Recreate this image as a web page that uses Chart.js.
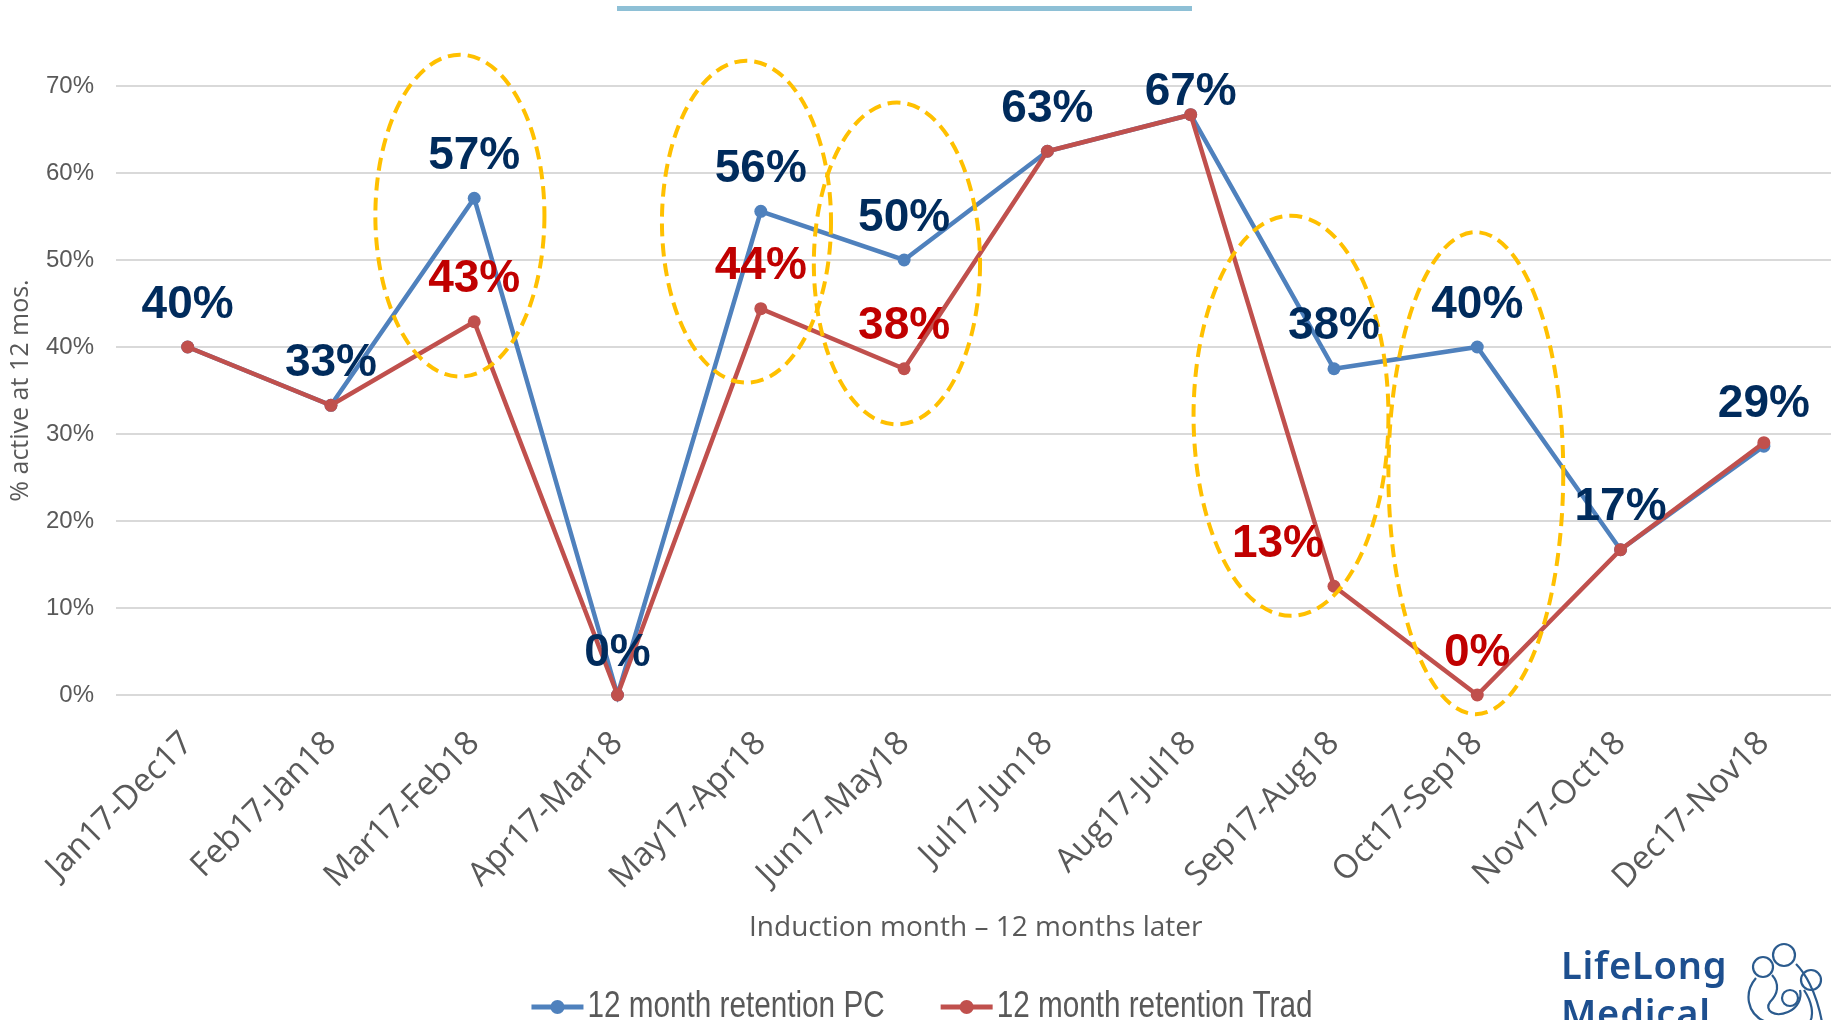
<!DOCTYPE html>
<html>
<head>
<meta charset="utf-8">
<title>12 month retention</title>
<script src="https://cdn.jsdelivr.net/npm/chart.js@4.4.1/dist/chart.umd.min.js"></script>
<style>
  body { margin: 0; background: #fff; }
  #wrap { position: relative; width: 1831px; height: 1020px; overflow: hidden; background: #fff; }
  /* plot runs slightly past the right edge, as in the original slide */
  #retention-chart { position: absolute; left: 0; top: 0; }
  .topbar { position: absolute; left: 617px; top: 6px; width: 575px; height: 5px; background: #8ec0d6; }
  .logo { position: absolute; left: 1561px; top: 940px; color: #1d4f8f; font-family: "Noto Sans", sans-serif;
          font-size: 38px; font-weight: 600; line-height: 48px; letter-spacing: 0.8px; }
  .logo-icon { position: absolute; left: 1740px; top: 942px; }
</style>
</head>
<body>
<div id="wrap">
  <canvas id="retention-chart" width="1842" height="1020"></canvas>
  <div class="topbar"></div>
  <div class="logo">LifeLong<br>Medical</div>
  <svg class="logo-icon" width="90" height="80" viewBox="0 0 90 80" fill="none" stroke="#2b5b8e" stroke-width="2.2">
    <circle cx="23" cy="25" r="10"/>
    <circle cx="44" cy="13" r="11"/>
    <circle cx="71" cy="38" r="10"/>
    <circle cx="50" cy="56" r="8"/>
    <path d="M16 36 C4 50 6 72 26 80"/>
    <path d="M32 33 C40 42 38 52 30 60 C24 68 34 76 48 70 C58 66 62 56 60 48"/>
    <path d="M56 22 C64 30 76 48 82 80"/>
    <path d="M64 48 C72 60 74 72 70 80"/>
  </svg>
</div>
<script>
const categories = ["Jan17-Dec17", "Feb17-Jan18", "Mar17-Feb18", "Apr17-Mar18", "May17-Apr18", "Jun17-May18",
  "Jul17-Jun18", "Aug17-Jul18", "Sep17-Aug18", "Oct17-Sep18", "Nov17-Oct18", "Dec17-Nov18"];
const pcValues = [40, 33.3, 57.1, 0, 55.6, 50, 62.5, 66.7, 37.5, 40, 16.7, 28.6];
const tradValues = [40, 33.3, 42.9, 0, 44.4, 37.5, 62.5, 66.7, 12.5, 0, 16.7, 29.0];
const seriesNames = ["12 month retention PC", "12 month retention Trad"];
const yTicks = [0, 10, 20, 30, 40, 50, 60, 70];

// which value labels are written for each series (the rest sit on top of each other)
const pcLabelIdx = [0, 1, 2, 3, 4, 5, 6, 7, 8, 9, 10, 11];
const tradLabelIdx = [2, 4, 5, 8, 9];

// dashed rings, in axis units: centre category, centre value, half width, half height
const rings = [
  { at: 1.90, mid: 55.1, halfW: 0.59, halfH: 18.5 },
  { at: 3.90, mid: 54.4, halfW: 0.59, halfH: 18.5 },
  { at: 4.95, mid: 49.6, halfW: 0.58, halfH: 18.5 },
  { at: 7.70, mid: 32.1, halfW: 0.68, halfH: 23.0 },
  { at: 8.99, mid: 25.5, halfW: 0.61, halfH: 27.7 }
];

const blue = "#4f81bd";
const red = "#c0504d";
const gray = "#595959";

const decor = {
  id: "decor",
  afterDatasetsDraw(chart) {
    const ctx = chart.ctx;
    const xs = chart.scales.x;
    const ys = chart.scales.y;

    ctx.save();
    ctx.strokeStyle = "#ffc000";
    ctx.lineWidth = 4;
    ctx.setLineDash([13, 7]);
    rings.forEach(r => {
      const cx = xs.getPixelForValue(r.at);
      const cy = ys.getPixelForValue(r.mid);
      const rx = Math.abs(xs.getPixelForValue(r.at + r.halfW) - cx);
      const ry = Math.abs(ys.getPixelForValue(r.mid + r.halfH) - cy);
      ctx.beginPath();
      ctx.ellipse(cx, cy, rx, ry, 0, 0, Math.PI * 2);
      ctx.stroke();
    });
    ctx.restore();

    ctx.save();
    ctx.font = "bold 46px 'Liberation Sans', Arial, sans-serif";
    ctx.textAlign = "center";
    ctx.textBaseline = "middle";
    const labelSets = [
      { idx: pcLabelIdx, color: "#002b5c", shift: { 7: [0, 22] } },
      { idx: tradLabelIdx, color: "#c00000", shift: { 8: [-56, 42] } }
    ];
    labelSets.forEach((set, di) => {
      const meta = chart.getDatasetMeta(di);
      const vals = chart.data.datasets[di].data;
      ctx.fillStyle = set.color;
      set.idx.forEach(i => {
        const pt = meta.data[i];
        const s = set.shift[i] || [0, 42];
        ctx.fillText(Math.round(vals[i]) + "%", pt.x + s[0], pt.y - s[1]);
      });
    });
    ctx.restore();
  },
  afterDraw(chart) {
    // legend: line with a dot, then the series name (narrow type, like the original)
    const ctx = chart.ctx;
    const squeeze = 0.825;
    ctx.save();
    ctx.font = "36px 'Liberation Sans', Arial, sans-serif";
    ctx.textBaseline = "middle";
    const sym = 52, gap = 4, itemGap = 56, y = 1007;
    const widths = chart.data.datasets.map(d => ctx.measureText(d.label).width * squeeze);
    const total = widths.reduce((a, w) => a + sym + gap + w, 0) + itemGap;
    let x = 922 - total / 2;
    chart.data.datasets.forEach((d, i) => {
      ctx.strokeStyle = d.borderColor;
      ctx.lineWidth = 5;
      ctx.beginPath();
      ctx.moveTo(x, y);
      ctx.lineTo(x + sym, y);
      ctx.stroke();
      ctx.fillStyle = d.borderColor;
      ctx.beginPath();
      ctx.arc(x + sym / 2, y, 7, 0, Math.PI * 2);
      ctx.fill();
      ctx.fillStyle = gray;
      ctx.save();
      ctx.translate(x + sym + gap, y);
      ctx.scale(squeeze, 1);
      ctx.fillText(d.label, 0, 0);
      ctx.restore();
      x += sym + gap + widths[i] + itemGap;
    });
    ctx.restore();
  }
};

const chart = new Chart(document.getElementById("retention-chart"), {
  type: "line",
  data: {
    labels: categories,
    datasets: [
      {
        label: seriesNames[0],
        data: pcValues,
        borderColor: blue,
        backgroundColor: blue,
        borderWidth: 4.5,
        pointRadius: 6.5,
        pointBorderWidth: 0,
        pointBackgroundColor: blue,
        tension: 0,
        clip: false,
        order: 2
      },
      {
        label: seriesNames[1],
        data: tradValues,
        borderColor: red,
        backgroundColor: red,
        borderWidth: 4.5,
        pointRadius: 6.5,
        pointBorderWidth: 0,
        pointBackgroundColor: red,
        tension: 0,
        clip: false,
        order: 1
      }
    ]
  },
  options: {
    responsive: false,
    animation: false,
    devicePixelRatio: 1,
    layout: { padding: { top: 86, right: 0, bottom: 75, left: 0 } },
    plugins: {
      legend: { display: false },
      tooltip: { enabled: false },
      title: { display: false }
    },
    scales: {
      x: {
        type: "category",
        offset: true,
        grid: { display: false },
        border: { display: false },
        ticks: {
          autoSkip: false,
          maxRotation: 45,
          minRotation: 45,
          padding: 21,
          color: gray,
          font: { family: "'Open Sans', sans-serif", size: 33 }
        },
        title: {
          display: true,
          text: "Induction month \u2013 12 months later",
          color: gray,
          font: { family: "'Open Sans', sans-serif", size: 28 },
          padding: { top: 0, bottom: 0 }
        },
        afterFit(scale) { scale.height = 250; }
      },
      y: {
        min: 0,
        max: 70,
        afterBuildTicks(scale) { scale.ticks = yTicks.map(v => ({ value: v })); },
        grid: { color: "#d9d9d9", lineWidth: 2, drawTicks: false },
        border: { display: false },
        ticks: {
          padding: 22,
          color: gray,
          font: { family: "'Liberation Sans', Arial, sans-serif", size: 24 },
          callback: v => v + "%"
        },
        title: {
          display: true,
          text: "% active at 12 mos.",
          color: gray,
          font: { family: "'Open Sans', sans-serif", size: 25 },
          padding: { top: 6, bottom: 0 }
        },
        afterFit(scale) { scale.width = 116; }
      }
    }
  },
  plugins: [decor]
});
</script>
</body>
</html>
